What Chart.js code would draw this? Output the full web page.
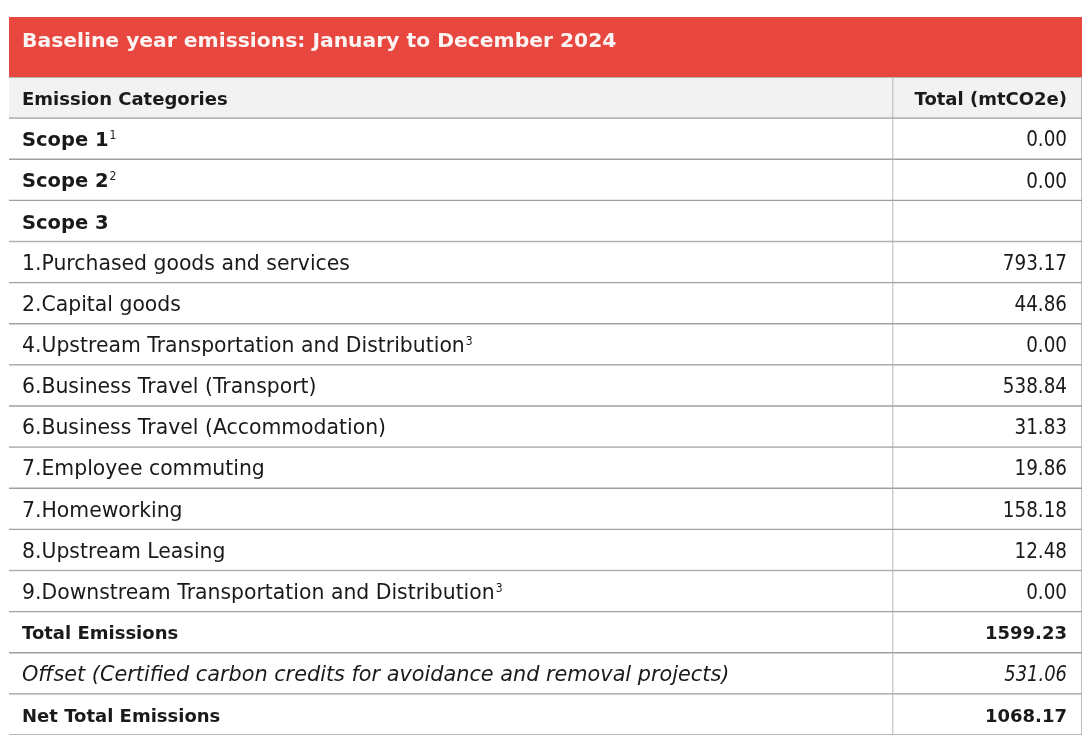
<!DOCTYPE html>
<html>
<head>
<meta charset="utf-8">
<script src="https://cdn.jsdelivr.net/npm/chart.js@4.4.1/dist/chart.umd.min.js"></script>
<style>
  html, body { margin: 0; padding: 0; background: #fff; }
  canvas { display: block; }
</style>
</head>
<body>
<canvas id="tabela" width="1088" height="745"></canvas>
<script>
// dados da tabela
const titulo = 'Baseline year emissions: January to December 2024'
const cabecalhoValor = 'Total (mtCO2e)'
const categorias = [
  'Emission Categories',
  'Scope 1',
  'Scope 2',
  'Scope 3',
  '1.Purchased goods and services',
  '2.Capital goods',
  '4.Upstream Transportation and Distribution',
  '6.Business Travel (Transport)',
  '6.Business Travel (Accommodation)',
  '7.Employee commuting',
  '7.Homeworking',
  '8.Upstream Leasing',
  '9.Downstream Transportation and Distribution',
  'Total Emissions',
  'Offset (Certified carbon credits for avoidance and removal projects)',
  'Net Total Emissions'
]
const notas = ['', '1', '2', '', '', '', '3', '', '', '', '', '', '3', '', '', '']
const totais = [null, 0.00, 0.00, null, 793.17, 44.86, 0.00, 538.84, 31.83, 19.86, 158.18, 12.48, 0.00, 1599.23, 531.06, 1068.17]

// estilo das linhas
const linhasEscopo = [1, 2, 3]
const rotulosNegrito = [0, 13, 15]
const linhasItalico = [14]
const divisaoColuna = 0.824
const fonte = '"DejaVu Sans", sans-serif'

// [fonte, escala horizontal]
function estiloRotulo(i) {
  if (linhasEscopo.includes(i)) return [`bold 19.5px ${fonte}`, 1]
  if (rotulosNegrito.includes(i)) return [`bold 18px ${fonte}`, 1]
  if (linhasItalico.includes(i)) return [`italic 20.8px ${fonte}`, 1]
  return [`20.4px ${fonte}`, 1]
}

function estiloValor(i) {
  if (rotulosNegrito.includes(i)) return [`bold 18px ${fonte}`, 1]
  if (linhasItalico.includes(i)) return [`italic 20.4px ${fonte}`, 0.88]
  return [`20.4px ${fonte}`, 0.9]
}

function escrever(ctx, texto, x, y, estilo, alinhamento) {
  ctx.save()
  ctx.font = estilo[0]
  ctx.textAlign = alinhamento
  ctx.translate(x, y)
  ctx.scale(estilo[1], 1)
  ctx.fillText(texto, 0, 0)
  const w = ctx.measureText(texto).width * estilo[1]
  ctx.restore()
  return w
}

const fundo = categorias.map((c, i) => (i === 0 ? '#f2f2f2' : '#ffffff'))

const textoTabela = {
  id: 'textoTabela',
  beforeDraw(chart) {
    const { ctx, chartArea } = chart
    ctx.save()
    ctx.fillStyle = '#e8473f'
    ctx.fillRect(chartArea.left, 17, chartArea.right - chartArea.left, chartArea.top - 17)
    ctx.fillStyle = '#fbf4f2'
    ctx.font = `bold 20.3px ${fonte}`
    ctx.textBaseline = 'middle'
    ctx.textAlign = 'left'
    ctx.fillText(titulo, chartArea.left + 13, 42)
    ctx.restore()
  },
  afterDatasetsDraw(chart) {
    const { ctx } = chart
    const x = chart.scales.x
    const y = chart.scales.y
    const esq = x.getPixelForValue(0) + 13
    const dir = x.getPixelForValue(1) - 15
    ctx.save()
    ctx.fillStyle = '#1a1a1a'
    ctx.textBaseline = 'middle'
    categorias.forEach((cat, i) => {
      const py = y.getPixelForValue(i) + 2.5
      const w = escrever(ctx, cat, esq, py, estiloRotulo(i), 'left')
      if (notas[i]) {
        escrever(ctx, notas[i], esq + w + 1, py - 5, [`12px ${fonte}`, 0.9], 'left')
      }
      const valor = i === 0 ? cabecalhoValor : (totais[i] == null ? '' : totais[i].toFixed(2))
      escrever(ctx, valor, dir, py, estiloValor(i), 'right')
    })
    ctx.restore()
  }
}

new Chart(document.getElementById('tabela'), {
  type: 'bar',
  data: {
    labels: categorias,
    datasets: [
      {
        label: 'Categoria',
        data: categorias.map(() => [0, divisaoColuna]),
        backgroundColor: fundo,
        borderColor: '#a0a0a0',
        borderWidth: 1,
        grouped: false,
        categoryPercentage: 1,
        barPercentage: 1
      },
      {
        label: 'Total',
        data: categorias.map(() => [divisaoColuna, 1]),
        backgroundColor: fundo,
        borderColor: '#a0a0a0',
        borderWidth: 1,
        grouped: false,
        categoryPercentage: 1,
        barPercentage: 1
      }
    ]
  },
  options: {
    indexAxis: 'y',
    responsive: false,
    animation: false,
    layout: { padding: { left: 9, right: 6, top: 77, bottom: 10 } },
    plugins: {
      legend: { display: false },
      tooltip: { enabled: false },
      title: { display: false }
    },
    scales: {
      x: { type: 'linear', min: 0, max: 1, display: false },
      y: { display: false, grid: { display: false } }
    }
  },
  plugins: [textoTabela]
})
</script>
</body>
</html>
